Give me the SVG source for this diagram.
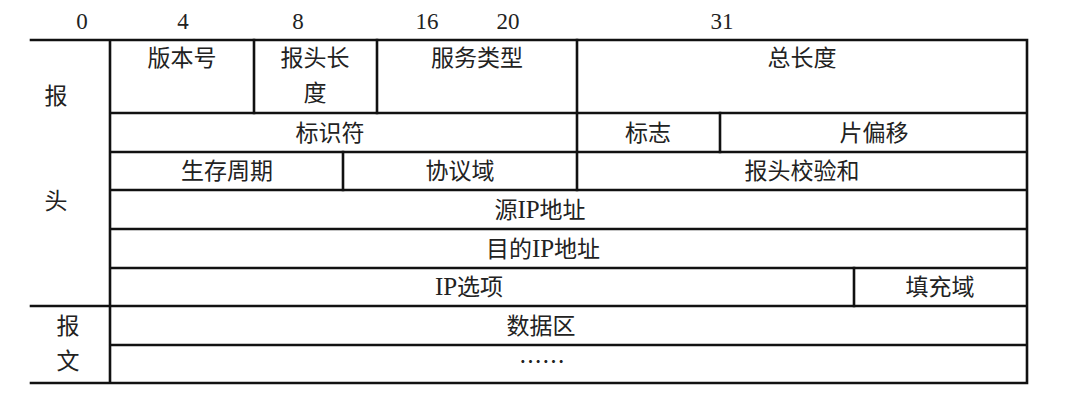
<svg xmlns="http://www.w3.org/2000/svg" width="1080" height="414" viewBox="0 0 1080 414">
<style>
.ln{stroke:#111;stroke-width:2.6;fill:none;stroke-linecap:square}
.t{font-family:"Noto Sans CJK SC","Liberation Sans",sans-serif;font-size:23px;fill:#222;text-anchor:middle}
.n{font-family:"Liberation Serif",serif;font-size:23px;fill:#222;text-anchor:middle}
.s{font-family:"Liberation Serif",serif;font-size:25px}
</style>
<rect width="1080" height="414" fill="#fff"/>
<g id="bit-scale">
<text class="n" x="82" y="29">0</text>
<text class="n" x="183" y="29">4</text>
<text class="n" x="298" y="29">8</text>
<text class="n" x="427" y="29">16</text>
<text class="n" x="508" y="29">20</text>
<text class="n" x="722" y="29">31</text>
</g>
<g id="grid">
<path class="ln" d="M31 40H1027V383H31M110 40V383M31 306H1027M110 113H1027M110 152H1027M110 190H1027M110 229H1027M110 268H1027M110 345H1027"/>
<path class="ln" d="M254 40V113M377 40V113M577 40V190M720 113V152M343 152V190M854 268V306"/>
</g>
<g id="side-labels">
<text class="t" x="56" y="104">报</text>
<text class="t" x="56" y="209">头</text>
<text class="t" x="68" y="334">报</text>
<text class="t" x="68" y="369">文</text>
</g>
<g id="row1">
<text class="t" x="182" y="66">版本号</text>
<text class="t" x="315" y="66">报头长</text>
<text class="t" x="315" y="101">度</text>
<text class="t" x="477" y="66">服务类型</text>
<text class="t" x="802" y="66">总长度</text>
</g>
<g id="row2">
<text class="t" x="330" y="141">标识符</text>
<text class="t" x="648" y="141">标志</text>
<text class="t" x="874" y="141">片偏移</text>
</g>
<g id="row3">
<text class="t" x="227" y="179">生存周期</text>
<text class="t" x="460" y="179">协议域</text>
<text class="t" x="802" y="179">报头校验和</text>
</g>
<g id="row4"><text class="t" x="540" y="218">源<tspan class="s">IP</tspan>地址</text></g>
<g id="row5"><text class="t" x="543" y="257">目的<tspan class="s">IP</tspan>地址</text></g>
<g id="row6">
<text class="t" x="469" y="295"><tspan class="s">IP</tspan>选项</text>
<text class="t" x="940" y="295">填充域</text>
</g>
<g id="row7"><text class="t" x="541" y="334">数据区</text></g>
<g id="row8"><text class="t" x="542" y="370">……</text></g>
</svg>
